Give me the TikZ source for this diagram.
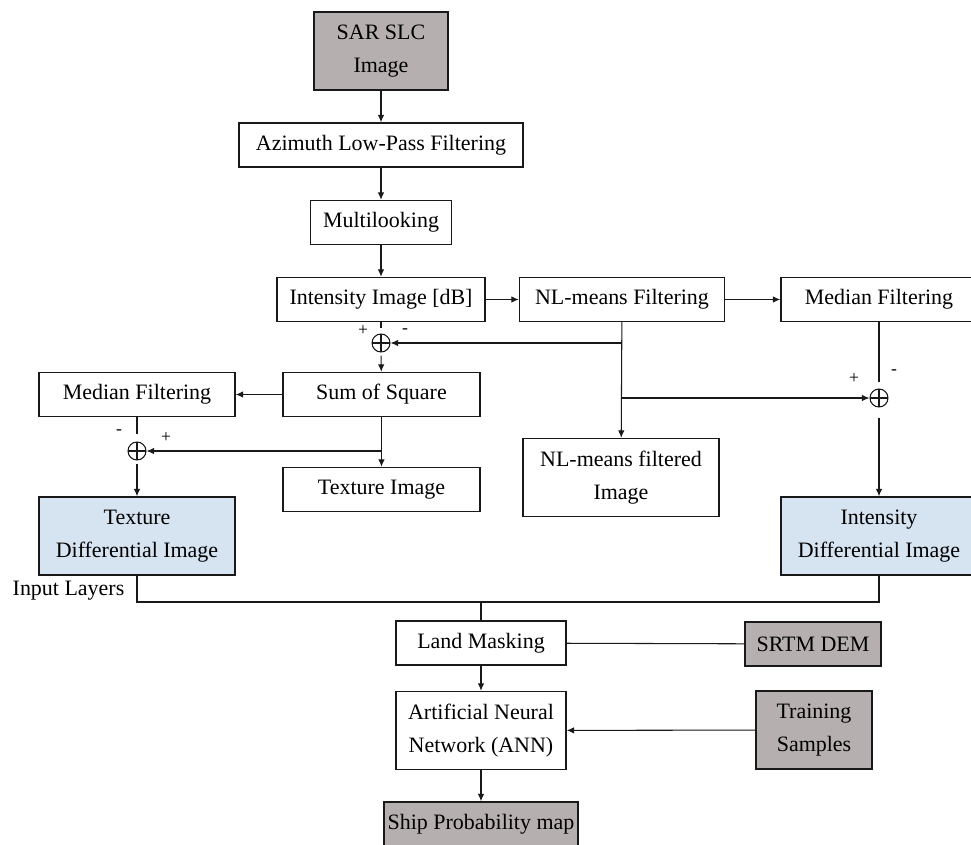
\documentclass[tikz,border=0pt]{standalone}
\usepackage{fontspec}
\setmainfont{LiberationSerif}[Extension=.ttf,UprightFont=*-Regular,BoldFont=*-Bold]
\usetikzlibrary{arrows.meta,positioning,calc}
\definecolor{slate}{RGB}{181,175,175}
\definecolor{pale}{RGB}{214,227,241}
\definecolor{ink}{RGB}{25,25,25}
\tikzset{
  >={Latex[length=1.5mm,width=1.3mm]},
  box/.style={draw=ink,fill=#1,line width=0.8pt,inner sep=2pt,align=center,
    minimum height=8.8mm,font=\fontsize{12.5}{19}\selectfont},
  box/.default=white,
  tall/.style={minimum height=15.6mm},
  flow/.style={->,line width=0.6pt,draw=ink},
  wire/.style={line width=0.6pt,draw=ink},
  oplus/.style={circle,draw=ink,line width=0.6pt,minimum size=3.6mm,inner sep=0pt,
    path picture={\draw[ink,line width=0.6pt]
      (path picture bounding box.north) -- (path picture bounding box.south)
      (path picture bounding box.west) -- (path picture bounding box.east);}},
  sign/.style={font=\fontsize{10}{10}\selectfont,inner sep=0pt},
  tag/.style={font=\fontsize{12.5}{15}\selectfont,inner sep=0pt},
}
\begin{document}
\begin{tikzpicture}
  \useasboundingbox (0,0) rectangle (19.42,-16.88);
  \clip (0,0) rectangle (19.42,-16.88);
  % main chain
  \node[box=slate,tall,minimum width=26.8mm] (sar) at (7.62,-1.02) {SAR SLC\\Image};
  \node[box,minimum width=56.8mm] (azi) at (7.62,-2.9) {Azimuth Low-Pass Filtering};
  \node[box,minimum width=28.2mm] (multi) at (7.62,-4.45) {Multilooking};
  \node[box,minimum width=41.6mm] (inten) at (7.62,-5.99) {Intensity Image [dB]};
  \node[box,minimum width=41mm] (nlm) at (12.44,-5.99) {NL-means Filtering};
  \node[box,minimum width=39.2mm] (medR) at (17.58,-5.99) {Median Filtering};
  % summing points
  \node[oplus] (sumA) at (7.62,-6.86) {};
  \node[oplus] (sumB) at (2.74,-9.02) {};
  \node[oplus] (sumC) at (17.58,-7.96) {};
  \node[sign] (pA) at (7.26,-6.62) {+};
  \node[sign] (mA) at (8.1,-6.62) {-};
  \node[sign] (mB) at (2.38,-8.64) {-};
  \node[sign] (pB) at (3.32,-8.76) {+};
  \node[sign] (pC) at (17.08,-7.58) {+};
  \node[sign] (mC) at (17.88,-7.44) {-};
  % texture branch
  \node[box,minimum width=39.4mm] (sos) at (7.63,-7.89) {Sum of Square};
  \node[box,minimum width=39.2mm] (medL) at (2.74,-7.89) {Median Filtering};
  \node[box,minimum width=39.4mm] (tex) at (7.63,-9.79) {Texture Image};
  \node[box=pale,tall,minimum width=39.2mm] (tdiff) at (2.74,-10.72) {Texture\\Differential Image};
  % intensity branch
  \node[box,tall,minimum width=39.2mm] (nlf) at (12.42,-9.55) {NL-means filtered\\Image};
  \node[box=pale,tall,minimum width=39.2mm] (idiff) at (17.58,-10.72) {Intensity\\Differential Image};
  \node[tag] (inlay) at (1.37,-11.82) {Input Layers};
  % classification
  \coordinate (join) at (9.62,-12.04);
  \node[box,minimum width=34mm] (land) at (9.62,-12.86) {Land Masking};
  \node[box=slate,minimum width=27.2mm] (srtm) at (16.26,-12.88) {SRTM DEM};
  \node[box,tall,minimum width=34mm] (ann) at (9.62,-14.61) {Artificial Neural\\Network (ANN)};
  \node[box=slate,tall,minimum width=23.2mm] (train) at (16.28,-14.6) {Training\\Samples};
  \node[box=slate,minimum width=38.4mm] (ship) at (9.62,-16.48) {Ship Probability map};

  \draw[flow] (sar) -- (azi);
  \draw[flow] (azi) -- (multi);
  \draw[flow] (multi) -- (inten);
  \draw[flow] (inten) -- (nlm);
  \draw[flow] (nlm) -- (medR);
  \draw[wire,shorten >=1mm] (inten) -- (sumA);
  \draw[flow] (nlm) -- (nlf);
  \draw[flow] (nlm.south |- sumA) -- (sumA);
  \draw[flow] (nlm.south |- sumC) -- (sumC);
  \draw[wire,shorten >=1.2mm] (medR) -- (sumC);
  \draw[flow,shorten <=2mm] (sumC) -- (idiff);
  \draw[flow,shorten <=0.6mm] (sumA) -- (sos);
  \draw[flow] (sos) -- (medL);
  \draw[flow] (sos) -- (tex);
  \draw[flow] (sos.south |- sumB) -- (sumB);
  \draw[wire,shorten >=1.4mm] (medL) -- (sumB);
  \draw[flow,shorten <=0.6mm] (sumB) -- (tdiff);
  \draw[wire] (tdiff) |- (join) -| (idiff);
  \draw[wire] (join) -- (land);
  \draw[wire] (srtm) -- (land);
  \draw[flow] (land) -- (ann);
  \draw[flow] (train) -- (ann);
  \draw[flow] (ann) -- (ship);
\end{tikzpicture}
\end{document}
